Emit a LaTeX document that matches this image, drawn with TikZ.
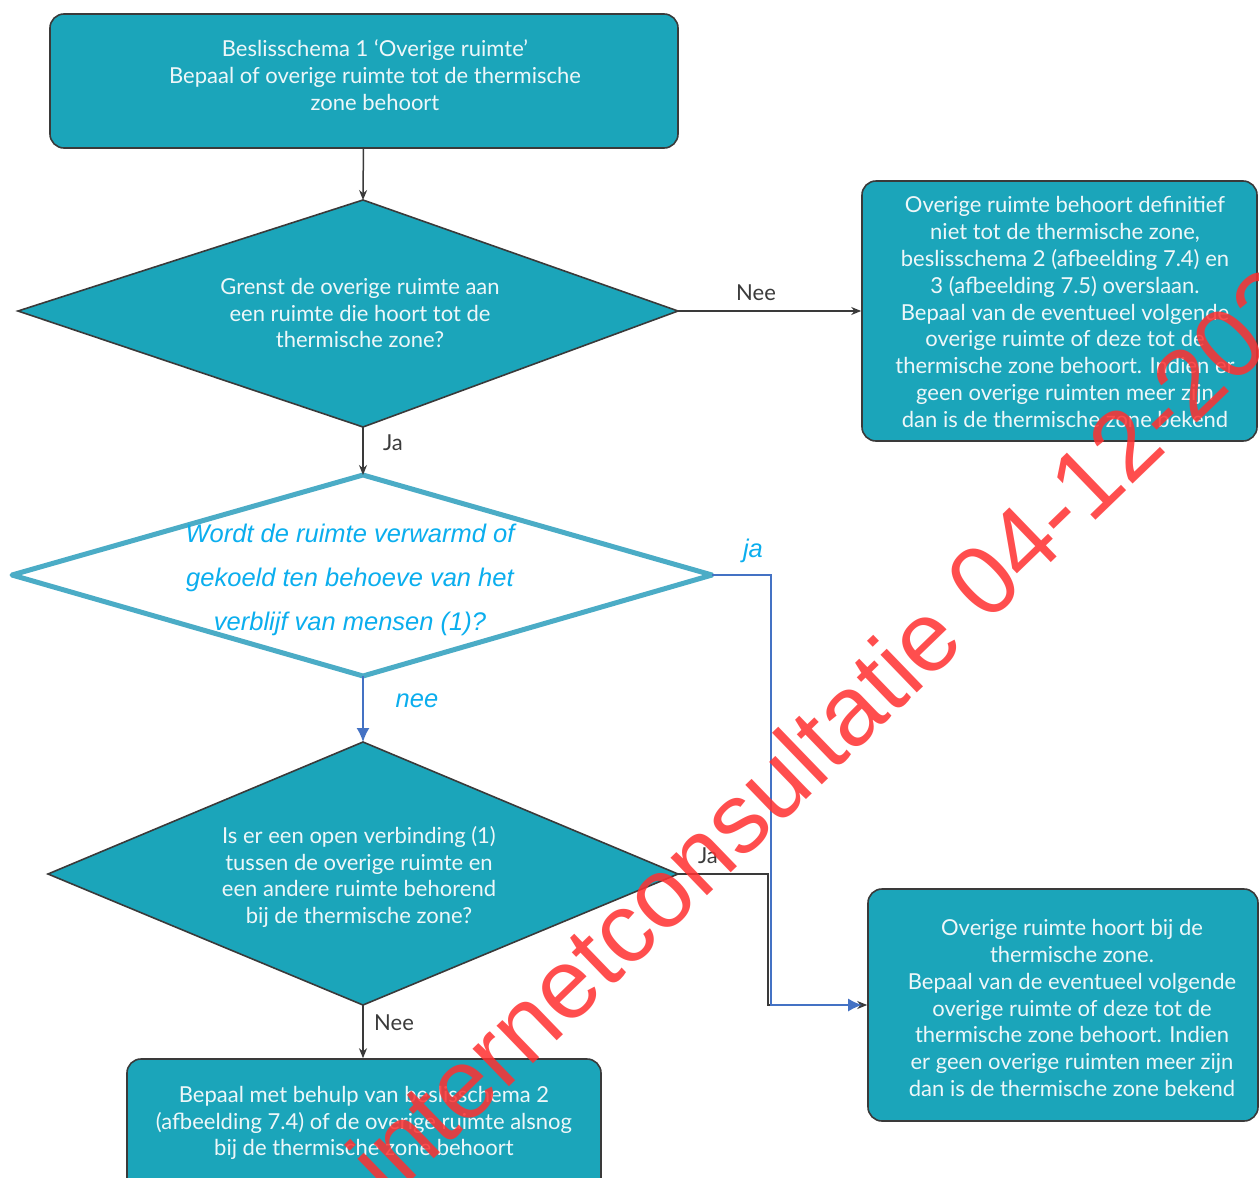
\documentclass[tikz,border=0pt]{standalone}
\usepackage{fontspec}
\setmainfont{Lato}
\newfontfamily\qfont{Liberation Sans}
\newfontfamily\wmfont{Liberation Sans}
\usetikzlibrary{arrows.meta}

\definecolor{boxteal}{HTML}{1BA5BA}
\definecolor{edgegray}{HTML}{3A3A3A}
\definecolor{boxtext}{HTML}{EEF7F9}
\definecolor{qline}{HTML}{4BACC6}
\definecolor{qtext}{HTML}{0BAEEE}
\definecolor{flowblue}{HTML}{4472C4}
\definecolor{labelgray}{HTML}{3B3B3B}
\definecolor{wmred}{HTML}{FF3030}

\tikzset{
  box/.style={draw=edgegray, fill=boxteal, line width=1.6pt, rounded corners=14pt, inner sep=0pt},
  dia/.style={draw=edgegray, fill=boxteal, line width=1.6pt, line join=miter},
  qdia/.style={draw=qline, fill=white, line width=5pt, line join=round},
  txt/.style={text=boxtext, align=center, inner sep=0pt, font=\fontsize{22}{26.8}\selectfont},
  qtxt/.style={text=qtext, align=center, inner sep=0pt, font=\qfont\itshape\fontsize{25.5}{44}\selectfont},
  lbl/.style={text=labelgray, inner sep=0pt, font=\fontsize{22}{24}\selectfont},
  qlbl/.style={text=qtext, inner sep=0pt, font=\qfont\itshape\fontsize{25.5}{28}\selectfont},
  arr/.style={draw=edgegray, line width=1.5pt, -{Stealth[length=10pt,width=8pt]}},
  barr/.style={draw=flowblue, line width=1.8pt, -{Latex[length=14pt,width=13pt]}},
  wm/.style={text=wmred, opacity=0.85, inner sep=0pt, font=\wmfont\fontsize{99}{100}\selectfont}
}

\begin{document}
\begin{tikzpicture}[x=1pt,y=-1pt]
\useasboundingbox (0,0) rectangle (1259,1178);
\clip (0,0) rectangle (1259,1178);
\fill[white] (0,0) rectangle (1259,1178);

% boxes
\node[box, minimum width=628pt, minimum height=134pt] (start) at (364,81) {};
\node[txt] (startT) at (375,75) {Beslisschema 1 ‘Overige ruimte’\\Bepaal of overige ruimte tot de thermische\\zone behoort};

\node[box, minimum width=395pt, minimum height=260pt] (nodef) at (1059.5,311) {};
\node[txt] (nodefT) at (1065,312) {Overige ruimte behoort definitief\\niet tot de thermische zone,\\beslisschema 2 (afbeelding 7.4) en\\3 (afbeelding 7.5) overslaan.\\Bepaal van de eventueel volgende\\overige ruimte of deze tot de\\thermische zone behoort. Indien er\\geen overige ruimten meer zijn\\dan is de thermische zone bekend};

\node[box, minimum width=390pt, minimum height=232pt] (hoort) at (1063,1005) {};
\node[txt] (hoortT) at (1072,1008) {Overige ruimte hoort bij de\\thermische zone.\\Bepaal van de eventueel volgende\\overige ruimte of deze tot de\\thermische zone behoort. Indien\\er geen overige ruimten meer zijn\\dan is de thermische zone bekend};

\node[box, minimum width=474pt, minimum height=140pt] (sub) at (364,1129) {};
\node[txt] (subT) at (364,1123) {Bepaal met behulp van beslisschema 2\\(afbeelding 7.4) of de overige ruimte alsnog\\bij de thermische zone behoort};

% decision 1
\coordinate (d1t) at (363,200);
\coordinate (d1r) at (678,311);
\coordinate (d1b) at (363,427);
\coordinate (d1l) at (18,311);
\draw[dia] (d1t) -- (d1r) -- (d1b) -- (d1l) -- cycle;
\node[txt] (d1T) at (360,313) {Grenst de overige ruimte aan\\een ruimte die hoort tot de\\thermische zone?};

% decision 2
\coordinate (d2t) at (363,475);
\coordinate (d2r) at (712,575);
\coordinate (d2b) at (363,676);
\coordinate (d2l) at (12,575);
\draw[qdia] (d2t) -- (d2r) -- (d2b) -- (d2l) -- cycle;
\node[qtxt] (d2T) at (350,580) {Wordt de ruimte verwarmd of\\gekoeld ten behoeve van het\\verblijf van mensen (1)?};

% decision 3
\coordinate (d3t) at (363,742);
\coordinate (d3r) at (678,874);
\coordinate (d3b) at (363,1005);
\coordinate (d3l) at (48,874);
\draw[dia] (d3t) -- (d3r) -- (d3b) -- (d3l) -- cycle;
\node[txt] (d3T) at (359,877) {Is er een open verbinding (1)\\tussen de overige ruimte en\\een andere ruimte behorend\\bij de thermische zone?};

% connectors
\coordinate (bendB) at (768,874);
\coordinate (bendQ) at (771,575);
\draw[arr] (start) -- (d1t);
\draw[arr] (d1r) -- (nodef);
\draw[arr] (d1b) -- (d2t);
\draw[barr] (d2b) -- (d3t);
\draw[arr] (d3b) -- (d3b |- sub.north);
\draw[arr] (d3r) -- (bendB) |- (hoort.west);
\draw[barr, shorten >=5pt] (d2r) -- (bendQ) |- (hoort.west);

% connector labels
\node[lbl] (lNee1) at (756,293) {Nee};
\node[lbl] (lJa1) at (393,443) {Ja};
\node[qlbl] (lja2) at (753,551) {ja};
\node[qlbl] (lnee2) at (417,701) {nee};
\node[lbl] (lJa3) at (708,856) {Ja};
\node[lbl] (lNee3) at (394,1023) {Nee};

% watermark
\node[wm, rotate=44] (stamp) at (846,712) {internetconsultatie 04-12-2023};
\end{tikzpicture}
\end{document}
